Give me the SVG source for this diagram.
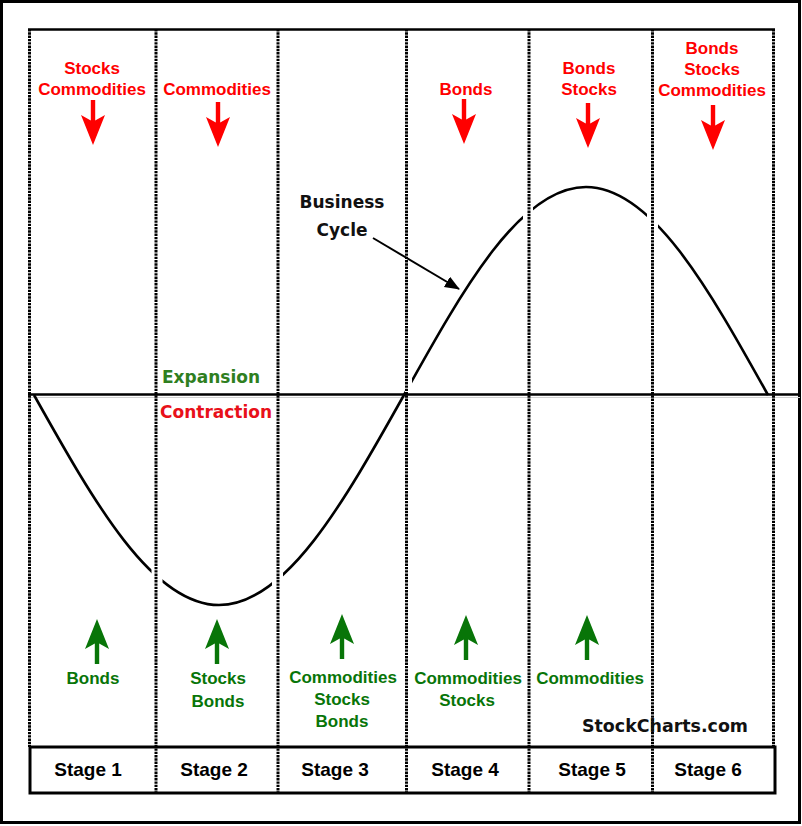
<svg xmlns="http://www.w3.org/2000/svg" width="802" height="826" viewBox="0 0 802 826">
<style>
.lbl{font-family:"Liberation Sans",Arial,sans-serif;font-weight:bold;font-size:17px;text-anchor:middle}
.red{fill:#ff0000}
.grn{fill:#087508}
.stage{font-family:"Liberation Sans",Arial,sans-serif;font-weight:bold;font-size:19px;text-anchor:middle;fill:#000}
.ver{font-family:"DejaVu Sans",Verdana,sans-serif;font-weight:bold;font-size:17px}
.div{stroke:#000;stroke-width:3;stroke-dasharray:2.4 0.9;fill:none}
</style>
<defs>
<path id="down" d="M-2.2,0 H2.2 V20.6 L12,15 L0,45 L-12,15 L-2.2,20.6 Z" fill="#ff0000"/>
<path id="up" d="M0,0 L12,30 L2.2,24.4 V45 H-2.2 V24.4 L-12,30 Z" fill="#087508"/>
<marker id="ah" markerUnits="userSpaceOnUse" markerWidth="16" markerHeight="14" refX="14" refY="6" orient="auto">
<path d="M0,0 L15,6 L0,12 Z" fill="#000"/>
</marker>
</defs>
<rect x="0" y="0" width="802" height="826" fill="#fff"/>
<rect x="1.5" y="1.5" width="798" height="821" fill="none" stroke="#000" stroke-width="3"/>

<g id="axis">
<line x1="29" y1="397.5" x2="800" y2="397.5" stroke="#d0d0d0" stroke-width="1"/>
<line x1="28" y1="394.5" x2="800" y2="394.5" stroke="#000" stroke-width="2.5"/>
<line x1="28" y1="29.5" x2="775" y2="29.5" stroke="#000" stroke-width="2.5"/>
</g>

<g id="business-cycle-curve">
<path d="M34,395 C94.33,502.6 152.04,605 219,605 C285.96,605 343.67,502.6 404,395 C463.36,288.44 520.14,187 586,187 C651.86,187 708.64,288.44 768,395" fill="none" stroke="#000" stroke-width="2.6"/>
<rect x="151.5" y="560" width="11" height="30" fill="#fff"/>
<rect x="272" y="563" width="11" height="30" fill="#fff"/>
<rect x="405" y="374" width="7" height="18.5" fill="#fff"/>
<rect x="523" y="198" width="10" height="27" fill="#fff"/>
<rect x="647" y="203" width="11" height="30" fill="#fff"/>
</g>

<g id="dividers">
<line class="div" x1="29.5" y1="29" x2="29.5" y2="747"/>
<line class="div" x1="156" y1="29" x2="156" y2="793"/>
<line class="div" x1="278" y1="29" x2="278" y2="793"/>
<line class="div" x1="406.5" y1="29" x2="406.5" y2="793"/>
<line class="div" x1="529" y1="29" x2="529" y2="793"/>
<line class="div" x1="652.5" y1="29" x2="652.5" y2="793"/>
<line class="div" x1="773.5" y1="29" x2="773.5" y2="747"/>
</g>

<g id="stage-box">
<rect x="30" y="747" width="745" height="46" fill="none" stroke="#000" stroke-width="3"/>
</g>

<g id="labels">
<text class="ver" x="162" y="383" fill="#2f7f1f">Expansion</text>
<text class="ver" x="160" y="418" fill="#e8101a">Contraction</text>
<text class="ver" x="342" y="208" fill="#111" text-anchor="middle">Business</text>
<text class="ver" x="342" y="236" fill="#111" text-anchor="middle">Cycle</text>
<text class="ver" x="582" y="732" fill="#111" textLength="166" lengthAdjust="spacingAndGlyphs">StockCharts.com</text>
</g>

<g id="connectors">
<line x1="373" y1="238" x2="459" y2="289" stroke="#000" stroke-width="2" marker-end="url(#ah)"/>
</g>

<g id="stage1">
<text class="lbl red" x="92" y="74">Stocks</text>
<text class="lbl red" x="92" y="95">Commodities</text>
<use href="#down" x="93" y="100"/>
<use href="#up" x="97" y="619"/>
<text class="lbl grn" x="93" y="684">Bonds</text>
<text class="stage" x="88" y="776">Stage 1</text>
</g>

<g id="stage2">
<text class="lbl red" x="217" y="95">Commodities</text>
<use href="#down" x="218" y="102"/>
<use href="#up" x="217" y="619"/>
<text class="lbl grn" x="218" y="684">Stocks</text>
<text class="lbl grn" x="218" y="707">Bonds</text>
<text class="stage" x="214" y="776">Stage 2</text>
</g>

<g id="stage3">
<use href="#up" x="342" y="614"/>
<text class="lbl grn" x="343" y="683">Commodities</text>
<text class="lbl grn" x="342" y="705">Stocks</text>
<text class="lbl grn" x="342" y="727">Bonds</text>
<text class="stage" x="335" y="776">Stage 3</text>
</g>

<g id="stage4">
<text class="lbl red" x="466" y="95">Bonds</text>
<use href="#down" x="464" y="99"/>
<use href="#up" x="466" y="615"/>
<text class="lbl grn" x="468" y="684">Commodities</text>
<text class="lbl grn" x="467" y="706">Stocks</text>
<text class="stage" x="465" y="776">Stage 4</text>
</g>

<g id="stage5">
<text class="lbl red" x="589" y="74">Bonds</text>
<text class="lbl red" x="589" y="95">Stocks</text>
<use href="#down" x="588" y="103"/>
<use href="#up" x="587" y="615"/>
<text class="lbl grn" x="590" y="684">Commodities</text>
<text class="stage" x="592" y="776">Stage 5</text>
</g>

<g id="stage6">
<text class="lbl red" x="712" y="54">Bonds</text>
<text class="lbl red" x="712" y="75">Stocks</text>
<text class="lbl red" x="712" y="96">Commodities</text>
<use href="#down" x="713" y="105"/>
<text class="stage" x="708" y="776">Stage 6</text>
</g>
</svg>
